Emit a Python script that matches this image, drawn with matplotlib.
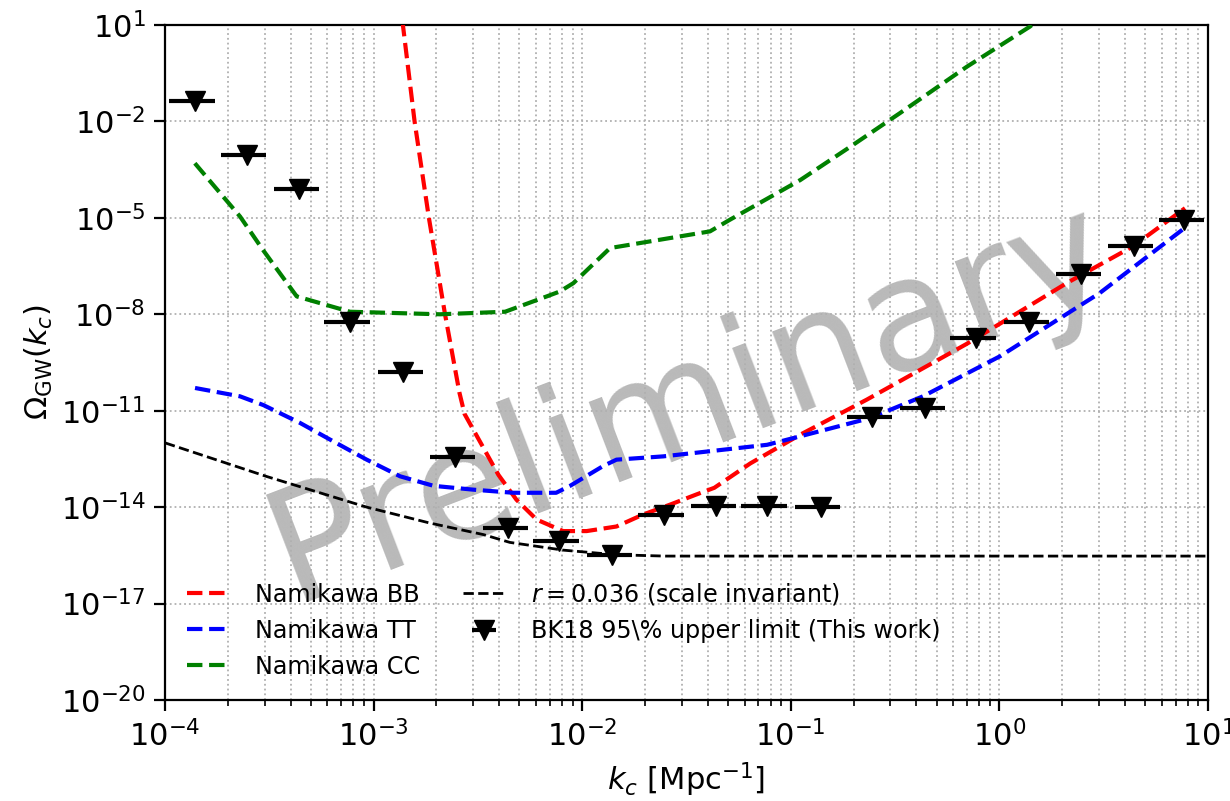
import matplotlib
matplotlib.use("Agg")
import matplotlib.pyplot as plt
from matplotlib.ticker import NullLocator

# ---- data ----
k_bins = [1.39e-4, 2.46e-4, 4.39e-4, 7.7e-4, 1.39e-3, 2.46e-3, 4.4e-3, 7.7e-3,
          1.39e-2, 2.46e-2, 4.4e-2, 7.7e-2, 0.139, 0.246, 0.44, 0.77,
          1.39, 2.46, 4.4, 7.7]
k_err = [0.34e-4, 0.60e-4, 1.07e-4, 1.9e-4, 3.4e-4, 6.0e-4, 1.07e-3, 1.9e-3,
         3.4e-3, 6.0e-3, 1.07e-2, 1.9e-2, 3.4e-2, 6.0e-2, 0.107, 0.19,
         0.34, 0.60, 1.07, 1.9]
omega_ul = [4.3e-2, 9.0e-4, 7.8e-5, 5.6e-9, 1.55e-10, 3.6e-13, 2.2e-15, 9.1e-16,
            3.2e-16, 5.5e-15, 1.05e-14, 1.05e-14, 1.0e-14, 6.3e-12, 1.2e-11, 1.8e-9,
            5.6e-9, 1.8e-7, 1.3e-6, 8.3e-6]

bb_k = [1.34e-3, 1.382e-3, 1.572e-3, 1.841e-3, 2.2e-3, 2.58e-3, 2.73e-3, 3.26e-3,
        3.97e-3, 4.84e-3, 6.05e-3, 8.1e-3, 1.05e-2, 1.46e-2, 1.96e-2, 2.64e-2,
        3.54e-2, 4.3e-2, 6.4e-2, 0.111, 0.231, 0.697, 2.1, 4.37, 7.76]
bb_om = [1e2, 10, 1e-2, 1e-5, 1e-8, 3.6e-11, 7.9e-12, 1.0e-12,
         1.0e-13, 1.7e-14, 4.1e-15, 1.8e-15, 1.8e-15, 2.5e-15, 5.9e-15, 1.2e-14,
         2.5e-14, 4e-14, 2.3e-13, 1.8e-12, 2.2e-11, 1.2e-9, 9.3e-8, 1.3e-6, 2e-5]

tt_k = [1.393e-4, 2.29e-4, 2.96e-4, 4.43e-4, 6.43e-4, 9.27e-4, 1.34e-3, 1.94e-3,
        3.0e-3, 4.67e-3, 7.5e-3, 8.7e-3, 1.26e-2, 1.46e-2, 2.45e-2, 4.1e-2,
        7.7e-2, 0.111, 0.24, 0.43, 1.01, 3.03, 7.9]
tt_om = [5.1e-11, 2.8e-11, 1.5e-11, 4.2e-12, 1.1e-12, 3.0e-13, 9.1e-14, 4.6e-14,
         3.5e-14, 2.8e-14, 2.8e-14, 4.5e-14, 1.9e-13, 3.0e-13, 3.8e-13, 5.5e-13,
         8.7e-13, 1.6e-12, 5.9e-12, 2.8e-11, 5e-10, 4.6e-8, 5.4e-6]

cc_k = [1.39e-4, 2.29e-4, 2.95e-4, 4.28e-4, 7.7e-4, 2.08e-3, 4.27e-3, 6.76e-3,
        7.8e-3, 9.07e-3, 1.36e-2, 4.1e-2, 5.1e-2, 0.111, 0.192, 0.333,
        0.697, 1.40, 2.0]
cc_om = [5.0e-4, 1.1e-5, 1.0e-6, 3.6e-8, 1.2e-8, 1.0e-8, 1.2e-8, 3.6e-8,
         5.1e-8, 9.3e-8, 1.15e-6, 3.8e-6, 8.7e-6, 1.5e-4, 1.6e-3, 1.8e-2,
         0.5, 8.9, 60]

r_k = [1e-4, 3.07e-4, 9.27e-4, 1.86e-3, 3.36e-3, 4.5e-3, 8.1e-3, 1.46e-2, 2.5e-2, 10]
r_om = [1e-12, 9e-14, 1.0e-14, 3.2e-15, 1.4e-15, 8e-16, 4.6e-16, 3.3e-16, 3.0e-16, 3.0e-16]

labels = ["Namikawa BB", "Namikawa TT", "Namikawa CC",
          r"$r = 0.036$ (scale invariant)", r"BK18 95\% upper limit (This work)"]

# ---- figure ----
fig = plt.figure(figsize=(12.3, 8.01), dpi=100)
ax = fig.add_axes([165/1230, 1-700/801, (1208-165)/1230, (700-25)/801])

ax.plot(bb_k, bb_om, ls='--', color='red', lw=3, label=labels[0], zorder=3)
ax.plot(tt_k, tt_om, ls='--', color='blue', lw=3, label=labels[1], zorder=3)
ax.plot(cc_k, cc_om, ls='--', color='green', lw=3, label=labels[2], zorder=3)
ax.plot(r_k, r_om, ls='--', color='black', lw=2, label=labels[3], zorder=3)
ax.errorbar(k_bins, omega_ul, xerr=k_err, fmt='v', color='black', ms=15,
            elinewidth=3, capsize=0, label=labels[4], zorder=4)

ax.set_xscale('log')
ax.set_yscale('log')
ax.set_xlim(1e-4, 10)
ax.set_yticks([10.0**e for e in range(1, -21, -3)])
ax.yaxis.set_minor_locator(NullLocator())
ax.set_ylim(1e-20, 10)

ax.grid(True, which='major', axis='both', ls=':', color='#b0b0b0', lw=1.3, zorder=1)
ax.grid(True, which='minor', axis='x', ls=':', color='#b0b0b0', lw=1.3, zorder=1)

ax.tick_params(which='major', length=8, width=1.6, labelsize=22, pad=6)
ax.tick_params(which='minor', length=4.5, width=1.2)
for s in ax.spines.values():
    s.set_linewidth(1.6)

ax.set_xlabel(r"$k_c$ [Mpc$^{-1}$]", fontsize=22, labelpad=6)
ax.set_ylabel(r"$\Omega_{\rm GW}(k_c)$", fontsize=22)

ax.text(0.503, 0.44, "Preliminary", transform=ax.transAxes, fontsize=113,
        color='gray', alpha=0.55, rotation=21, ha='center', va='center', zorder=1.2)

ax.legend(loc='lower left', ncol=2, frameon=False, fontsize=17.2,
          handlelength=1.75, handletextpad=1.1, columnspacing=1.82)

fig.savefig("out.png", dpi=100)
